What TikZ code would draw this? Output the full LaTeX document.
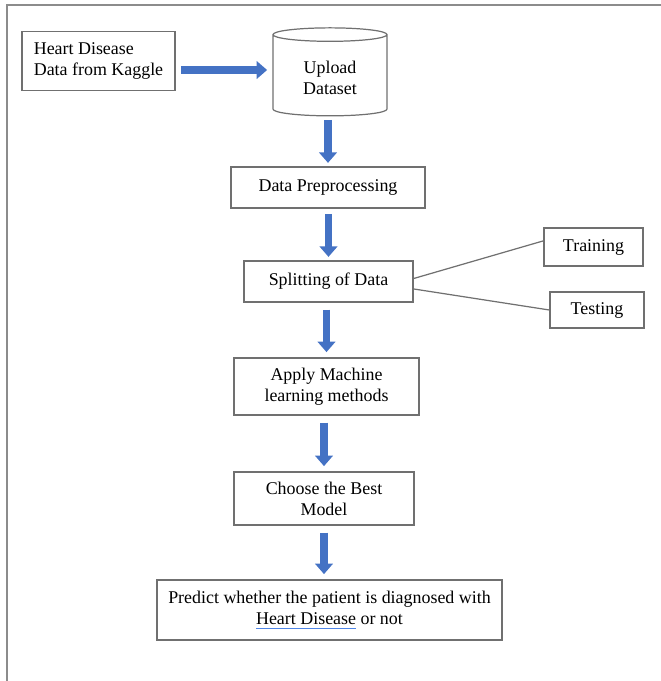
\documentclass[tikz,border=0pt]{standalone}
\usepackage{fontspec}
\setmainfont{Liberation Serif}
\usepackage{xcolor}
\usepackage{tikz}
\usetikzlibrary{shapes.geometric, arrows.meta, positioning, calc}
\definecolor{flowBlue}{HTML}{4472C4}
\definecolor{lineGray}{HTML}{707070}
\definecolor{frameGray}{HTML}{8C8C8C}
\definecolor{ulBlue}{HTML}{4F86E8}
\newcommand{\spellul}[1]{\setbox0\hbox{#1}\rlap{\textcolor{ulBlue}{\rule[-2.6pt]{\wd0}{0.8pt}}}\box0\relax}

\begin{document}
\begin{tikzpicture}[x=0.02cm,y=-0.02cm,
 box/.style={rectangle,draw=lineGray,line width=0.7pt,align=center,
 font=\fontsize{10.2}{12}\selectfont,inner sep=2pt},
 flow/.style={-{Triangle[length=6pt,width=10pt]},line width=4pt,draw=flowBlue},
 split/.style={draw=lineGray,line width=0.7pt}]
\useasboundingbox (0,0) rectangle (661,681);
\draw[frameGray,line width=0.9pt] (7,681) -- (7,5) -- (661,5);
\node[box,align=left,minimum width=3.06cm,minimum height=1.18cm] (kaggle) at (98.5,61) {Heart Disease\\Data from Kaggle};
\node[cylinder,shape border rotate=90,shape aspect=1.15,draw=lineGray,line width=0.7pt,
 minimum width=2.28cm,minimum height=1.76cm] (upl) at (330,77) {};
\node[align=center,font=\fontsize{10.2}{12}\selectfont] (upltxt) at (330,78) {Upload\\Dataset};
\node[box,minimum width=3.88cm,minimum height=0.82cm] (prep) at (328,187.5) {Data Preprocessing};
\node[box,minimum width=3.38cm,minimum height=0.82cm] (splt) at (328.5,281.5) {Splitting of Data};
\node[box,minimum width=1.98cm,minimum height=0.76cm] (train) at (593.5,247) {Training};
\node[box,minimum width=1.88cm,minimum height=0.72cm] (test) at (597,310) {Testing};
\node[box,minimum width=3.7cm,minimum height=1.14cm] (apply) at (326.5,386.5) {Apply Machine\\learning methods};
\node[box,minimum width=3.6cm,minimum height=1.06cm] (best) at (324,498.5) {Choose the Best\\Model};
\node[box,minimum width=6.9cm,minimum height=1.2cm] (pred) at (329.5,610) {Predict whether the patient is diagnosed with\\\spellul{Heart Disease} or not};
% arrows
\draw[flow,shorten <=3pt,shorten >=3pt] ([yshift=0.14cm]kaggle.east |- upl.west) -- ([yshift=0.14cm]upl.west);
\draw[flow,shorten <=2pt,shorten >=2pt] (prep.north |- upl.south) -- (prep.north);
\draw[flow,shorten <=3pt,shorten >=2pt] (splt.north |- prep.south) -- (splt.north);
\draw[flow,shorten <=4pt,shorten >=3pt] (apply.north |- splt.south) -- (apply.north);
\draw[flow,shorten <=4pt,shorten >=3pt] (apply.south -| best.north) -- (best.north);
\draw[flow,shorten <=4pt,shorten >=3pt] (best.south) -- (best.south |- pred.north);
% split lines
\draw[split] (splt.2) -- (train.173);
\draw[split] (splt.-5) -- (test.west);
\end{tikzpicture}
\end{document}
